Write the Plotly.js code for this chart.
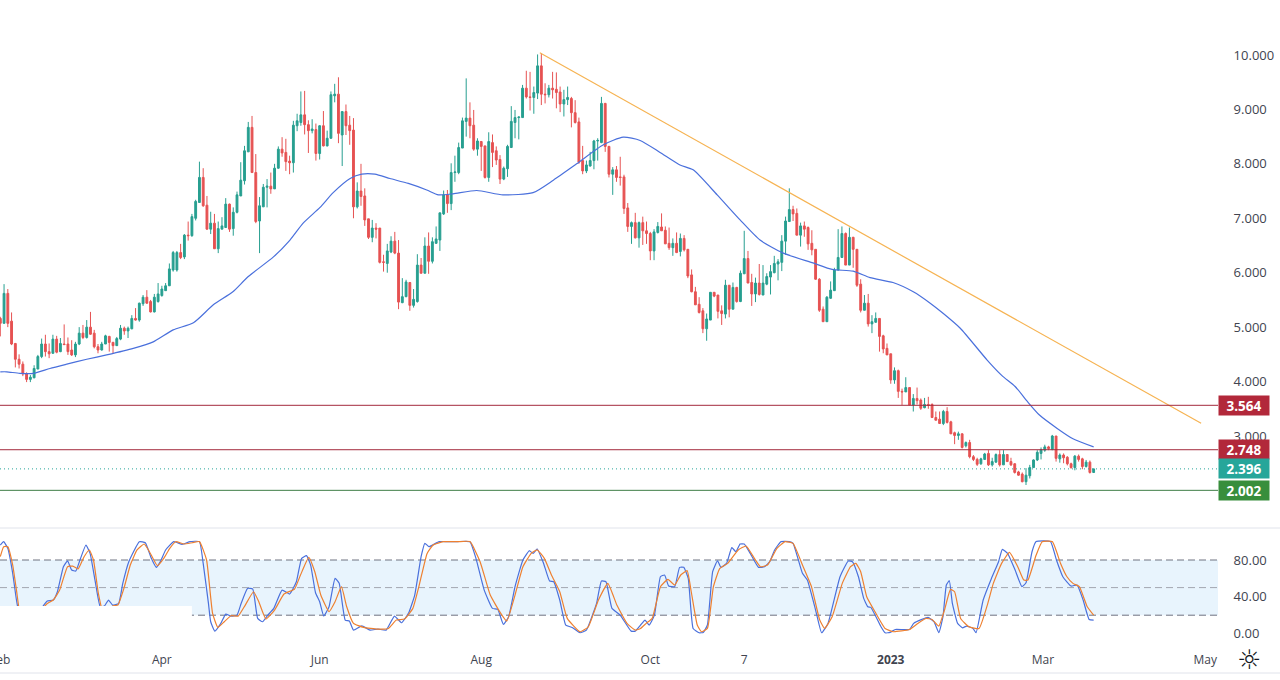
<!DOCTYPE html>
<html>
<head>
<meta charset="utf-8">
<script src="https://cdn.plot.ly/plotly-3.0.1.min.js"></script>
<style>html,body{margin:0;padding:0;background:#fff;overflow:hidden}#chart{width:1280px;height:680px}</style>
</head>
<body>
<div id="chart"></div>
<script>
const open = [5.16,5.07,5.62,5.11,4.70,4.41,4.32,4.14,4.04,4.07,
4.23,4.46,4.69,4.55,4.52,4.78,4.55,4.69,4.69,4.58,
4.49,4.69,4.89,4.81,5.00,4.89,4.64,4.58,4.69,4.83,
4.72,4.66,4.78,4.98,4.93,4.97,5.16,5.13,5.43,5.55,
5.47,5.28,5.47,5.58,5.67,5.76,6.05,6.05,6.37,6.29,
6.69,6.68,7.00,7.29,7.75,7.24,6.80,6.91,6.44,6.80,
6.83,7.26,6.81,7.11,7.41,7.69,8.22,8.67,7.84,6.95,
7.21,7.57,7.59,7.54,7.92,8.27,8.21,8.05,8.02,8.70,
8.76,8.90,8.72,8.61,8.63,8.19,8.70,8.33,8.47,9.25,
9.28,8.53,8.96,8.71,8.62,7.21,7.50,7.41,6.99,6.65,
6.82,6.82,6.20,6.17,6.38,6.58,6.36,5.45,5.56,5.82,
5.40,5.47,6.14,5.99,6.49,6.21,6.54,6.60,7.08,7.43,
7.27,7.84,7.84,8.29,8.78,8.84,8.71,8.27,8.41,8.33,
7.75,8.39,8.24,8.08,7.72,7.91,8.30,8.76,8.85,8.85,
9.39,9.23,9.22,9.30,9.80,9.28,9.27,9.39,9.37,9.32,
9.10,9.18,9.20,8.94,8.77,8.06,7.87,7.96,8.06,8.42,
8.39,9.11,8.32,7.81,7.89,7.76,7.76,7.19,6.85,6.92,
6.64,6.92,6.77,6.72,6.40,6.74,6.84,6.78,6.54,6.46,
6.54,6.39,6.63,6.43,5.96,5.65,5.42,5.30,4.97,5.13,
5.64,5.59,5.30,5.24,5.77,5.33,5.73,5.47,5.98,6.26,
5.82,5.61,5.81,5.59,5.79,5.92,6.00,6.16,6.19,6.58,
6.94,7.16,7.09,6.69,6.86,6.83,6.54,6.43,5.88,5.33,
5.10,5.53,5.67,6.05,6.28,6.72,6.14,6.65,6.43,5.79,
5.31,5.44,5.06,5.09,5.16,4.84,4.61,4.51,4.03,4.20,
3.82,3.81,3.89,3.57,3.69,3.66,3.52,3.58,3.58,3.34,
3.31,3.23,3.45,3.26,3.06,3.01,3.04,2.82,2.88,2.62,
2.57,2.49,2.57,2.68,2.47,2.52,2.66,2.47,2.66,2.53,
2.49,2.34,2.30,2.16,2.27,2.42,2.56,2.68,2.74,2.80,
2.75,3.00,2.58,2.65,2.61,2.49,2.42,2.63,2.58,2.44,
2.52,2.33];
const close = [5.07,5.62,5.07,4.69,4.41,4.32,4.14,4.04,4.08,4.24,
4.46,4.69,4.55,4.51,4.78,4.54,4.70,4.68,4.55,4.49,
4.69,4.89,4.81,5.00,4.87,4.64,4.58,4.69,4.84,4.72,
4.66,4.79,4.98,4.93,4.98,5.16,5.13,5.44,5.55,5.44,
5.28,5.55,5.61,5.70,5.76,6.07,6.37,6.37,6.28,6.69,
6.68,7.03,7.31,7.75,7.23,6.80,6.91,6.44,6.81,6.86,
7.26,6.80,7.11,7.43,7.70,8.24,8.67,7.84,6.94,7.23,
7.57,7.59,7.54,7.92,8.27,8.20,8.04,8.02,8.71,8.79,
8.90,8.72,8.61,8.64,8.19,8.70,8.33,8.47,9.27,9.28,
8.56,8.96,8.70,8.61,7.21,7.50,7.40,6.97,6.65,6.82,
6.80,6.19,6.19,6.40,6.58,6.36,5.46,5.56,5.83,5.40,
5.51,6.14,5.99,6.49,6.21,6.57,6.62,7.10,7.43,7.27,
7.84,7.85,8.30,8.79,8.84,8.70,8.27,8.42,8.32,7.75,
8.41,8.21,8.07,7.72,7.92,8.32,8.78,8.85,8.86,9.39,
9.23,9.22,9.31,9.80,9.28,9.27,9.39,9.36,9.31,9.10,
9.18,9.22,8.94,8.76,8.03,7.87,7.98,8.06,8.42,8.43,
9.11,8.32,7.81,7.89,7.75,7.75,7.18,6.85,6.92,6.64,
6.92,6.77,6.72,6.40,6.75,6.85,6.77,6.53,6.46,6.54,
6.37,6.63,6.42,5.94,5.65,5.41,5.27,4.97,5.15,5.64,
5.57,5.29,5.25,5.77,5.33,5.73,5.47,5.99,6.26,5.81,
5.61,5.81,5.60,5.81,5.93,6.02,6.17,6.20,6.58,6.95,
7.16,7.08,6.69,6.86,6.80,6.53,6.42,5.88,5.31,5.10,
5.55,5.68,6.05,6.28,6.72,6.14,6.65,6.43,5.77,5.31,
5.44,5.06,5.10,5.16,4.83,4.60,4.49,4.03,4.20,3.82,
3.81,3.89,3.57,3.69,3.65,3.51,3.58,3.56,3.34,3.29,
3.23,3.45,3.25,3.04,3.01,3.04,2.79,2.88,2.62,2.57,
2.48,2.58,2.67,2.47,2.53,2.66,2.47,2.66,2.53,2.47,
2.33,2.28,2.16,2.28,2.42,2.56,2.70,2.75,2.80,2.77,
3.00,2.59,2.65,2.60,2.49,2.42,2.63,2.57,2.44,2.52,
2.33,2.396];
const high = [5.19,5.79,5.70,5.27,4.71,4.50,4.37,4.17,4.12,4.30,
4.49,4.79,4.86,4.70,4.86,4.84,4.80,5.05,4.81,4.76,
4.73,5.00,5.04,5.13,5.28,4.95,4.69,4.73,4.86,4.84,
4.73,4.82,5.04,5.01,5.01,5.22,5.35,5.45,5.59,5.68,
5.50,5.61,5.81,5.76,5.81,6.17,6.40,6.40,6.53,6.71,
6.94,7.08,7.34,8.04,7.92,7.41,7.12,7.08,6.94,7.02,
7.37,7.27,7.20,7.49,8.03,8.33,8.77,8.88,8.18,7.39,
7.63,7.72,7.84,8.00,8.32,8.49,8.46,8.15,8.79,8.92,
9.33,9.34,8.80,8.82,8.74,8.71,8.97,8.61,9.33,9.47,
9.59,8.96,9.09,8.88,8.84,7.66,8.00,7.55,6.99,6.97,
6.91,6.82,6.33,6.53,6.67,6.75,6.60,5.90,5.87,5.83,
5.70,6.34,6.27,6.65,6.74,6.65,6.85,7.10,7.51,7.52,
8.01,8.15,8.39,8.85,9.57,9.13,8.99,8.47,8.42,8.33,
8.58,8.54,8.32,8.16,7.95,8.35,9.06,8.99,8.87,9.45,
9.71,9.69,9.42,10.01,10.03,9.48,9.45,9.69,9.68,9.42,
9.36,9.42,9.23,9.17,8.85,8.33,8.06,8.22,8.44,8.47,
9.23,9.12,8.33,7.94,7.96,8.13,7.80,7.28,6.94,7.10,
6.94,7.03,6.94,6.75,6.80,6.93,7.09,6.85,6.83,6.63,
6.74,6.72,6.69,6.43,6.06,5.74,5.55,5.35,5.25,5.64,
5.64,5.59,5.40,5.87,5.77,5.82,5.74,6.04,6.77,6.40,
5.98,5.91,6.16,6.14,5.99,6.14,6.31,6.25,6.69,7.03,
7.55,7.23,7.18,6.92,6.94,6.85,6.78,6.43,5.90,5.38,
5.57,5.84,6.09,6.80,6.85,6.74,6.83,6.66,6.43,5.88,
5.59,5.61,5.22,5.27,5.16,4.86,4.70,4.51,4.26,4.22,
3.87,4.08,3.89,3.77,3.89,3.69,3.70,3.72,3.60,3.45,
3.45,3.48,3.53,3.28,3.08,3.08,3.05,2.90,2.93,2.65,
2.60,2.60,2.69,2.74,2.60,2.68,2.74,2.74,2.66,2.60,
2.50,2.36,2.33,2.41,2.47,2.57,2.74,2.79,2.84,2.82,
3.02,3.00,2.68,2.68,2.63,2.51,2.65,2.66,2.60,2.56,
2.55,2.40];
const low = [4.83,5.07,5.00,4.67,4.26,4.24,4.10,3.99,3.99,4.06,
4.23,4.43,4.46,4.43,4.51,4.52,4.54,4.67,4.49,4.47,
4.45,4.67,4.78,4.79,4.86,4.61,4.52,4.57,4.69,4.55,
4.51,4.66,4.76,4.86,4.80,4.96,5.12,5.10,5.39,5.43,
5.27,5.27,5.45,5.56,5.67,5.76,6.02,6.02,6.25,6.25,
6.59,6.66,6.96,7.29,7.21,6.79,6.71,6.44,6.36,6.80,
6.83,6.75,6.68,7.09,7.41,7.62,8.22,7.84,6.91,6.36,
7.21,7.20,7.45,7.54,7.91,8.13,7.87,7.81,7.84,8.60,
8.70,8.54,8.20,8.56,8.06,8.08,8.32,8.32,8.46,9.13,
8.38,7.96,8.53,8.35,7.00,7.18,7.23,6.86,6.62,6.56,
6.63,6.17,6.02,6.00,6.36,6.34,5.33,5.44,5.55,5.30,
5.36,5.45,5.99,5.99,5.98,6.17,6.53,6.40,7.06,7.10,
7.15,7.67,7.81,8.29,8.50,8.47,8.24,8.15,7.87,7.73,
7.67,7.94,7.98,7.63,7.70,7.76,8.29,8.47,8.45,8.85,
9.20,8.98,8.92,9.19,9.08,9.11,9.22,9.20,9.02,8.95,
8.87,9.08,8.67,8.74,8.00,7.81,7.83,7.95,7.90,8.06,
8.38,8.22,7.75,7.43,7.67,7.60,7.08,6.75,6.53,6.63,
6.46,6.51,6.53,6.23,6.23,6.72,6.77,6.53,6.42,6.31,
6.36,6.30,6.39,5.90,5.64,5.41,5.25,4.89,4.75,5.13,
5.55,5.16,5.04,5.16,5.18,5.33,5.45,5.46,5.98,5.81,
5.39,5.46,5.58,5.59,5.77,5.60,5.99,5.86,6.03,6.33,
6.94,6.95,6.69,6.48,6.66,6.42,6.32,5.87,5.28,5.10,
5.10,5.52,5.67,6.04,6.27,6.14,6.14,6.09,5.74,5.27,
5.31,5.01,4.89,5.08,4.55,4.52,4.49,3.96,3.96,3.70,
3.57,3.81,3.57,3.45,3.58,3.48,3.51,3.50,3.33,3.29,
3.22,3.20,3.23,3.04,2.85,2.93,2.77,2.79,2.59,2.54,
2.45,2.47,2.56,2.45,2.44,2.51,2.44,2.47,2.53,2.45,
2.31,2.27,2.15,2.10,2.22,2.42,2.54,2.57,2.71,2.74,
2.74,2.53,2.51,2.50,2.46,2.40,2.37,2.53,2.39,2.42,
2.31,2.32];
const barIndex = open.map((_, i) => i);

const maX = [0,1.7,5.2,8.8,13.2,17.7,23,28.3,35.4,40.7,46,51.4,56.7,61.9,66,72.7,77.1,80.6,85.1,88.6,93.1,96.2,99.7,103.7,108.6,113.5,116.6,120.5,126.8,133.8,141.8,147.2,153.4,160.5,165.8,170.3,175.6,180.9,184.4,190.8,196.9,202.2,208.4,216.3,221.4,227,231.5,237.6,243,247.5,251,255.5,262.6,266.6,270.1,273.4,276.5,281.3,285.5,291];
const maY = [4.18,4.18,4.15,4.15,4.24,4.32,4.41,4.49,4.61,4.73,4.95,5.08,5.41,5.65,5.93,6.29,6.60,6.91,7.20,7.47,7.73,7.81,7.81,7.73,7.64,7.52,7.43,7.45,7.51,7.43,7.47,7.70,8.00,8.35,8.49,8.43,8.21,7.98,7.89,7.43,6.97,6.60,6.36,6.18,6.06,6.03,5.91,5.82,5.65,5.44,5.25,4.98,4.40,4.11,3.91,3.63,3.39,3.14,2.95,2.80];

const trendX = [143.6, 319.6];
const trendY = [10.04, 3.233];

const levels = [3.564, 2.748, 2.396, 2.002];
const levelColors = ['#a32a3c', '#a32a3c', '#26a69a', '#3f7d46'];
const labelColors = ['#b2283a', '#b2283a', '#26a69a', '#388e3c'];
const levelTexts = ['3.564', '2.748', '2.396', '2.002'];

const kX = [0,0.9,2,3.3,4.3,5.4,8.2,10.3,11.4,12.5,14.1,15.2,16.8,17.9,19,20.1,21.2,22.8,23.9,25.2,26.6,27.7,28.8,29.9,31.5,32.6,34.2,37,38.6,40.2,41.5,42.6,44,46.2,48.4,50.5,53,54,55.4,56,57.1,58.7,60,61.4,63,64.1,65.8,67.2,68.5,69.8,71.2,72.8,75,77,78.8,80.2,81.5,82.6,83.9,85,86.1,87.5,89.1,90.2,91.8,92.9,94,96.2,98.4,100.5,102.7,104.9,106.8,108.7,110.3,112,113,114.1,116.8,119,121.7,125,126.6,128.8,131,132.4,133.9,135.3,137,139.1,140.8,141.8,142.9,144.6,146.2,147.3,148.9,150.5,152.2,154.3,156,157.6,158.7,160,161.2,162.8,165,167.9,169,170.4,171.6,172.7,174.1,175.7,176.8,177.9,179.5,180.8,181.9,183.1,184.4,186,187.1,188.2,189.6,190.9,191.8,193.3,194.7,195.8,196.9,198,199.6,201.8,203.4,204.8,206.1,207.8,210,211,213.5,214.8,217,218.6,220.3,223.5,225.7,226.8,228.4,229.8,230.9,231.7,234.4,235.5,236.8,238.2,242,243.1,245.3,246.9,248.5,249.8,250.9,251.8,252.6,253.4,254.8,256.1,257.2,258.9,259.7,261.6,263.8,265.7,266.7,268.1,270.1,271.9,273,274.6,275.7,279.5,281.1,282.8,285,286.6,288.2,289.8,291];
const kY = [96.3,99.9,92.7,65.5,36.5,14.7,5.6,14.7,29.9,35.4,36.5,45.5,72.7,79.2,69.1,68,80,96.3,87.2,58.2,29.2,29.9,36.5,31,32.8,54.6,78.2,99.9,98.8,81.8,72,78.2,90.9,100,97,100,100,76.3,32.8,12.9,2.7,11.1,21.2,19,20.1,32.8,49.1,48.4,16.5,12.9,20.1,27.4,47.3,43,56.4,81.8,84.7,74.5,44.4,34.6,19,29.2,60,54.6,14.7,13.6,3.8,8.5,3.8,4.9,3.8,19,11.8,22.7,41.9,83.6,98.1,94.5,100,99.9,100,99.9,81.8,47.3,27.4,26.3,10,18.3,51,80,90.1,87.2,92,76.3,57.1,56.4,36.5,9.3,6.7,0.9,3.8,20.1,32.8,57.1,56.4,27.4,20.1,2.7,2.7,9.3,14.7,9.3,20.1,61.8,63.7,51.7,51,72,72,60,5.6,0.9,1.3,9.3,67.3,79.2,72,76.3,93.4,89,97.4,97.4,87.2,72,72.7,78.2,90.9,100,100,98.1,65.5,58.2,25.6,0.9,11.1,61.8,78.9,78.2,61.8,38.3,29.2,28.5,7.4,0.9,1.3,4.5,4.5,11.1,15.4,17.6,12.9,0.9,18.3,52.8,57.5,32.8,11.1,6.3,8.2,5.6,0.9,36.5,60,78.2,91.6,87.2,69.1,51,55.3,89,100,100,80,61.8,51.7,52.8,36.5,15.4,14.7];

const dX = [0,0.9,2,3.3,4.3,5.4,8.2,10.3,11.4,12.5,14.1,15.8,17.9,19.3,20.7,22.3,23.7,24.8,26.1,27.7,29.9,31.3,32.9,34.6,36.4,38.3,39.7,41.8,43.5,45.1,46.7,48.9,51.1,53,54.9,56.5,57.9,59.6,61.4,63.3,65.2,67.4,68.8,70.7,73,75.5,78.3,79.9,82.1,83.7,85.3,87.5,89.1,90.8,92.2,94,96.7,100.5,103.3,105.4,107.6,109.8,111.4,113.6,115.2,117.9,121.7,125,127.7,130.4,133.2,134.8,137,139.1,141.3,142.9,144.8,146.7,148.9,150.9,154.3,156.5,159.2,161.7,164.1,166.8,169,170.4,171.9,173.5,175.7,177.7,179.5,181.1,182.8,183.9,185.5,186.6,188.2,189.8,191.5,193.6,196.4,198.5,200.7,202.3,204.2,206.7,208.9,211,213.5,215.9,218.1,219.4,221.4,224.1,226.3,227.7,229,230.6,232.8,235.5,237.7,242,244.2,246.4,248,249.8,251.3,252.9,254,255.6,257.8,260.5,262.7,264.3,266.5,268.6,270.8,272.4,273.5,275.7,277.3,280,282.2,283.9,285.5,287.2,289.3,291];
const dY = [83.6,94.5,94.5,74.5,47.3,18.3,3.8,11,27.4,32.8,36.5,47.3,72.7,73.4,70.2,83.6,90.9,80,43.7,18.3,29.9,31,49.1,74.5,90.9,97.4,89,73.8,81.8,92.7,99.9,97.4,98.8,100,80,22,6.7,12.9,19.4,19,31,45.5,34.6,15.8,25.6,43,48.4,63.7,82.9,67.3,41.9,23.8,34.6,51,29.2,11.1,6.7,4.9,5.6,14.7,15.8,27.4,51,87.2,96.3,99.9,99.9,100,78.2,41.9,22,13.6,41.9,72.7,87.2,90.9,81.8,63.7,45.5,16.5,2,7.4,36.5,54.6,31,11.1,3.8,5.6,11.1,16.5,51,59,52.8,63.7,68.4,45.5,9.3,2,5.6,51,70.9,76.3,90.9,95.2,81.8,72.7,74.5,92.7,100,98.1,74.5,51,14.7,5.6,18.3,54.6,72.7,76.3,67.3,40.1,23.8,5.6,2,4.5,11.1,16.5,15.4,8.2,25.6,48.1,45.5,16.5,7.4,5.6,31,54.6,76.3,88.3,72.7,58.2,58.2,85.4,99.9,100,76.3,61.8,54.6,51,29.2,20.1];

const xTickVals = [-0.05, 43, 85, 128, 173, 198, 237, 277.5, 320.7];
const xTickText = ['Feb', 'Apr', 'Jun', 'Aug', 'Oct', '7', '<b>2023</b>', 'Mar', 'May'];
const priceTicks = [3, 4, 5, 6, 7, 8, 9, 10];
const stochTicks = [0, 40, 80];
const stochBands = [80, 50, 20];

const UP = '#279f90', DOWN = '#e65252', BLUE = '#4a70dc', ORANGE = '#ee8030';
const FONT = '"Open Sans", Roboto, sans-serif';
const TEXT = '#41444f';

const traces = [
  {type: 'scatter', mode: 'lines', x: maX, y: maY, xaxis: 'x', yaxis: 'y',
   line: {color: BLUE, width: 1.2, shape: 'spline', smoothing: 0.6}, hoverinfo: 'skip'},
  {type: 'candlestick', x: barIndex, open, high, low, close, xaxis: 'x', yaxis: 'y',
   whiskerwidth: 0,
   increasing: {line: {color: UP, width: 1}, fillcolor: UP},
   decreasing: {line: {color: DOWN, width: 1}, fillcolor: DOWN},
   hoverinfo: 'skip'},
  {type: 'scatter', mode: 'lines', x: trendX, y: trendY, xaxis: 'x', yaxis: 'y',
   line: {color: '#f6b352', width: 1.2}, hoverinfo: 'skip'},
  {type: 'scatter', mode: 'lines', x: kX, y: kY, xaxis: 'x', yaxis: 'y2',
   line: {color: BLUE, width: 1.2, shape: 'spline', smoothing: 0.4}, hoverinfo: 'skip'},
  {type: 'scatter', mode: 'lines', x: dX, y: dY, xaxis: 'x', yaxis: 'y2',
   line: {color: ORANGE, width: 1.2, shape: 'spline', smoothing: 0.4}, hoverinfo: 'skip'}
];

const shapes = [];
shapes.push({type: 'rect', xref: 'paper', x0: 0, x1: 1, yref: 'y2', y0: 20, y1: 80,
  fillcolor: '#e8f4fd', line: {width: 0}, layer: 'below'});
stochBands.forEach((v, i) => shapes.push({type: 'line', xref: 'paper', x0: 0, x1: 1, yref: 'y2', y0: v, y1: v,
  line: {color: i === 1 ? '#a3a6b0' : '#6f7280', width: 1, dash: '7px,4px'}, layer: 'below'}));
levels.forEach((v, i) => shapes.push({type: 'line', xref: 'paper', x0: 0, x1: 1, yref: 'y', y0: v, y1: v,
  line: {color: levelColors[i], width: 1, dash: i === 2 ? '1px,3px' : 'solid'}}));
// blanked area in the lower-left of the oscillator pane
shapes.push({type: 'rect', xref: 'x', x0: -1, x1: 51, yref: 'y2', y0: -13, y1: 29.9,
  fillcolor: '#ffffff', line: {width: 0}});
// pane separators
const W = 1218, H = 645;
shapes.push({type: 'line', xref: 'paper', x0: 0, x1: 1280 / W, yref: 'paper', y0: 117 / H, y1: 117 / H,
  line: {color: '#e0e3eb', width: 1}});
shapes.push({type: 'line', xref: 'paper', x0: 0, x1: 1280 / W, yref: 'paper', y0: -28 / H, y1: -28 / H,
  line: {color: '#e0e3eb', width: 1}});

const annotations = levels.map((v, i) => ({
  xref: 'paper', x: 1218 / W, xanchor: 'left', yref: 'y', y: v, yanchor: 'middle',
  text: '<b>' + levelTexts[i] + '</b>', showarrow: false, width: 50, height: 19, align: 'center',
  bgcolor: labelColors[i], borderpad: 0,
  font: {family: FONT, size: 13.5, color: '#ffffff'}
}));
annotations.push({xref: 'paper', x: 1249 / W, xanchor: 'center', yref: 'paper', y: -14 / H, yanchor: 'middle',
  text: '☼', showarrow: false, font: {family: 'DejaVu Sans', size: 27, color: '#131722'}});

const layout = {
  width: 1280, height: 680,
  margin: {l: 0, r: 62, t: 0, b: 35, pad: 0},
  paper_bgcolor: '#fff', plot_bgcolor: 'rgba(0,0,0,0)',
  showlegend: false,
  font: {family: FONT, size: 12, color: TEXT},
  xaxis: {domain: [0, 1], range: [-0.08, 324.1], type: 'linear', anchor: 'y2',
    showgrid: false, zeroline: false, showline: false, rangeslider: {visible: false},
    tickmode: 'array', tickvals: xTickVals, ticktext: xTickText, ticks: '', ticklabelstandoff: 6,
    ticklabeloverflow: 'allow',
    tickfont: {family: FONT, size: 12, color: TEXT}},
  yaxis: {domain: [117 / H, 1], range: [1.31, 11.01], anchor: 'x', side: 'right',
    showgrid: false, zeroline: false, showline: false,
    tickmode: 'array', tickvals: priceTicks, tickformat: '.3f', ticks: 'outside', ticklen: 12, tickcolor: 'rgba(0,0,0,0)',
    tickfont: {family: FONT, size: 13, color: TEXT}},
  yaxis2: {domain: [0, 117 / H], range: [-12.4, 114.8], anchor: 'x', side: 'right',
    showgrid: false, zeroline: false, showline: false,
    tickmode: 'array', tickvals: stochTicks, tickformat: '.2f', ticks: 'outside', ticklen: 12, tickcolor: 'rgba(0,0,0,0)',
    tickfont: {family: FONT, size: 13, color: TEXT}},
  shapes, annotations
};
Plotly.newPlot('chart', traces, layout, {staticPlot: true, displayModeBar: false});
</script>
</body>
</html>
